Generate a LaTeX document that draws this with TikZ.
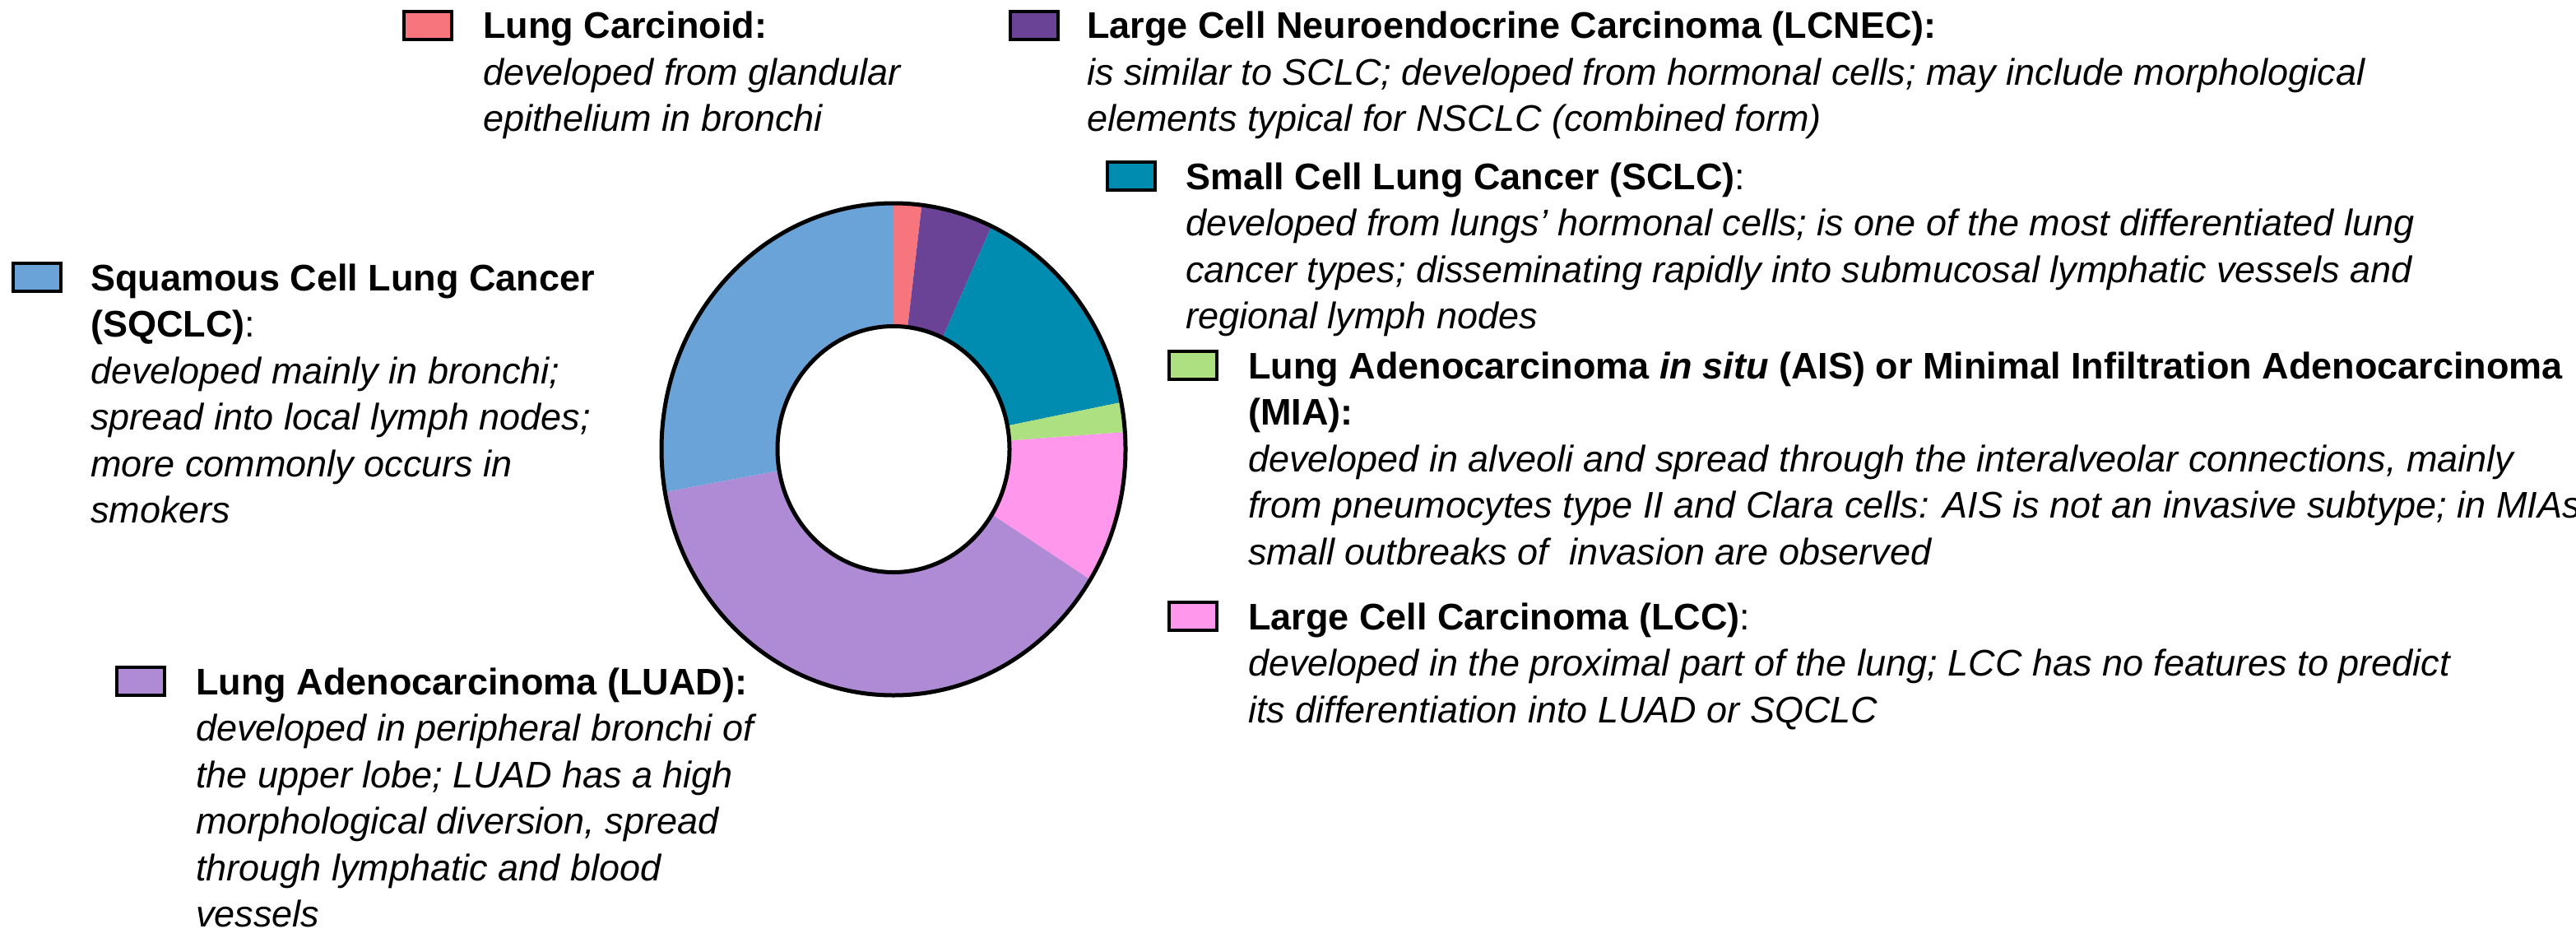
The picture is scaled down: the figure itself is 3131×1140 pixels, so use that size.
\documentclass[tikz,border=0pt]{standalone}
\usepackage{fontspec}
\setmainfont{Liberation Sans}
\definecolor{cCarc}{HTML}{F7767E}
\definecolor{cLCNEC}{HTML}{6A4397}
\definecolor{cSCLC}{HTML}{008BB0}
\definecolor{cAIS}{HTML}{ADE080}
\definecolor{cLCC}{HTML}{FF97EC}
\definecolor{cLUAD}{HTML}{AF8BD6}
\definecolor{cSQ}{HTML}{6AA3D8}
\begin{document}
\begin{tikzpicture}[x=1pt,y=-1pt,
  key/.style={draw=black,line width=3.5pt,minimum width=58pt,minimum height=34pt,inner sep=0pt},
  leg/.style={anchor=base west,inner sep=0pt,font=\fontsize{45}{56.5}\selectfont}]
\useasboundingbox (0,0) rectangle (3131,1140);
\fill[white] (0,0) rectangle (3131,1140);
% donut
\begin{scope}[shift={(1086,546)},x=282pt,y=299pt]
\newcommand{\slice}[3]{\fill[#3] (#1:1) arc[start angle=#1,end angle=#2,radius=1] -- (#2:0.5) arc[start angle=#2,end angle=#1,radius=0.5] -- cycle;}
\slice{90}{83}{cCarc}
\slice{83}{65}{cLCNEC}
\slice{65}{11}{cSCLC}
\slice{11}{4}{cAIS}
\slice{4}{-32}{cLCC}
\slice{-32}{-170}{cLUAD}
\slice{-170}{-270}{cSQ}
\draw[line width=5pt] (0,0) circle[radius=1];
\draw[line width=5pt,fill=white] (0,0) circle[radius=0.5];
\end{scope}
% legend
\node[key,fill=cCarc] (kcarc) at (520,31) {};
\node[leg] (tcarc) at (587,47) {\begin{tabular}[t]{@{}l@{}}\textbf{Lung Carcinoid:}\\ \textit{developed from glandular}\\ \textit{epithelium in bronchi}\end{tabular}};

\node[key,fill=cLCNEC] (klcnec) at (1257,31) {};
\node[leg] (tlcnec) at (1321,47) {\begin{tabular}[t]{@{}l@{}}\textbf{Large Cell Neuroendocrine Carcinoma (LCNEC):}\\ \textit{is similar to SCLC; developed from hormonal cells; may include morphological}\\ \textit{elements typical for NSCLC (combined form)}\end{tabular}};

\node[key,fill=cSCLC] (ksclc) at (1375,214) {};
\node[leg] (tsclc) at (1441,230) {\begin{tabular}[t]{@{}l@{}}\textbf{Small Cell Lung Cancer (SCLC)}:\\ \textit{developed from lungs' hormonal cells; is one of the most differentiated lung}\\ \textit{cancer types; disseminating rapidly into submucosal lymphatic vessels and}\\ \textit{regional lymph nodes}\end{tabular}};

\node[key,fill=cAIS] (kais) at (1450,444) {};
\node[leg] (tais) at (1517,460) {\begin{tabular}[t]{@{}l@{}}\textbf{Lung Adenocarcinoma \textit{in situ} (AIS) or Minimal Infiltration Adenocarcinoma}\\ \textbf{(MIA):}\\ \textit{developed in alveoli and spread through the interalveolar connections, mainly}\\ \textit{from pneumocytes type II and Clara cells: AIS is not an invasive subtype; in MIAs}\\ \textit{small outbreaks of\ \ invasion are observed}\end{tabular}};

\node[key,fill=cLCC] (klcc) at (1450,749) {};
\node[leg] (tlcc) at (1517,765) {\begin{tabular}[t]{@{}l@{}}\textbf{Large Cell Carcinoma (LCC)}:\\ \textit{developed in the proximal part of the lung; LCC has no features to predict}\\ \textit{its differentiation into LUAD or SQCLC}\end{tabular}};

\node[key,fill=cSQ] (ksq) at (45,337) {};
\node[leg] (tsq) at (110,353) {\begin{tabular}[t]{@{}l@{}}\textbf{Squamous Cell Lung Cancer}\\ \textbf{(SQCLC)}:\\ \textit{developed mainly in bronchi;}\\ \textit{spread into local lymph nodes;}\\ \textit{more commonly occurs in}\\ \textit{smokers}\end{tabular}};

\node[key,fill=cLUAD] (kluad) at (171,828) {};
\node[leg] (tluad) at (238,844) {\begin{tabular}[t]{@{}l@{}}\textbf{Lung Adenocarcinoma (LUAD):}\\ \textit{developed in peripheral bronchi of}\\ \textit{the upper lobe; LUAD has a high}\\ \textit{morphological diversion, spread}\\ \textit{through lymphatic and blood}\\ \textit{vessels}\end{tabular}};
\end{tikzpicture}
\end{document}
